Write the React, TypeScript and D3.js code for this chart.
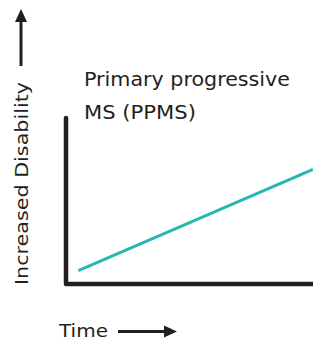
import * as d3 from "d3";

// data
const time = [0.5, 10];
const disability = [0.8, 6.9];
const title = ["Primary progressive", "MS (PPMS)"];
const titleWidths = [206, 112];
const xLabel = "Time";
const yLabel = "Increased Disability";

const W = 313;
const H = 341;
const ink = "#231f20";
const teal = "#26b8ae";
const font = "'DejaVu Sans', sans-serif";

export default function App() {
  const x = d3.scaleLinear().domain([0, 10]).range([66, 313]);
  const y = d3.scaleLinear().domain([0, 10]).range([284, 118]);

  const pts: [number, number][] = time.map((t, i) => [t, disability[i]]);
  const line = d3.line<[number, number]>().x((d) => x(d[0])).y((d) => y(d[1]));

  return (
    <svg width={W} height={H} style={{ position: "absolute", left: 0, top: 0 }}>
      <rect width={W} height={H} fill="#fff" />
      {/* axes */}
      <path
        d={`M${x(0)},${y(10)}V${y(0)}H${x(10)}`}
        fill="none"
        stroke={ink}
        strokeWidth={4.5}
        strokeLinecap="round"
        strokeLinejoin="round"
      />
      <path d={line(pts) ?? ""} fill="none" stroke={teal} strokeWidth={3} />

      {title.map((t, i) => (
        <text
          key={t}
          x={84}
          y={86 + i * 33}
          fontFamily={font}
          fontSize={19}
          fill={ink}
          textLength={titleWidths[i]}
          lengthAdjust="spacingAndGlyphs"
        >
          {t}
        </text>
      ))}

      {/* y label + arrow */}
      <text
        transform="translate(27.5,285) rotate(-90)"
        fontFamily={font}
        fontSize={18}
        fill={ink}
        textLength={203}
        lengthAdjust="spacingAndGlyphs"
      >
        {yLabel}
      </text>
      <line x1={21} x2={21} y1={66} y2={20} stroke={ink} strokeWidth={3} />
      <path d="M15,22L21,9L27,22Z" fill={ink} />

      {/* x label + arrow */}
      <text
        x={59}
        y={337}
        fontFamily={font}
        fontSize={18}
        fill={ink}
        textLength={49}
        lengthAdjust="spacingAndGlyphs"
      >
        {xLabel}
      </text>
      <line x1={118} x2={166} y1={331.5} y2={331.5} stroke={ink} strokeWidth={3} />
      <path d="M164,325.5L177,331.5L164,337.5Z" fill={ink} />
    </svg>
  );
}
